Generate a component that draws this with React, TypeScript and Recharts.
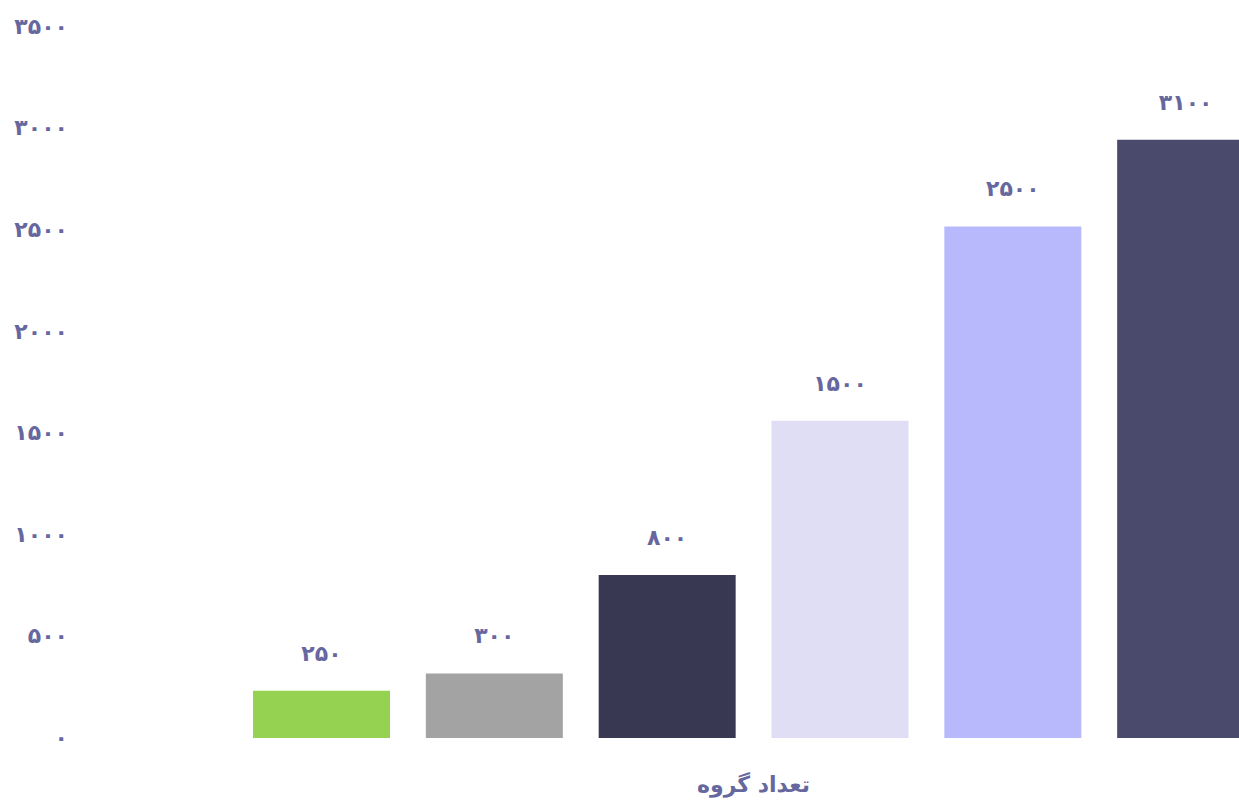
import { BarChart, Bar, XAxis, YAxis, Cell, LabelList } from "recharts";

const groups = ["g1", "g2", "g3", "g4", "g5", "g6"];
const barValues = [232, 318, 803, 1562, 2518, 2945];
const barLabels = [250, 300, 800, 1500, 2500, 3100];
const barColors = ["#95d251", "#a3a3a3", "#393853", "#e0def5", "#b8b9fd", "#4a4a6d"];
const yTicks = [0, 500, 1000, 1500, 2000, 2500, 3000, 3500];
const xTitle = "تعداد گروه";

const TEXT = "#6767a0";
const FONT = "'DejaVu Sans', sans-serif";
const FA = "۰۱۲۳۴۵۶۷۸۹";
const toFa = (v: number | string) => String(v).replace(/\d/g, (d) => FA[Number(d)]);

const data = groups.map((g, i) => ({ name: g, value: barValues[i], label: barLabels[i] }));

function YTick({ y, payload }: any) {
  return (
    <text x={68} y={y - 1} dy="0.36em" textAnchor="end" fill={TEXT} fontFamily={FONT} fontWeight="bold" fontSize={22}>
      {toFa(payload.value)}
    </text>
  );
}

export default function App() {
  return (
    <div style={{ width: 1239, height: 803, overflow: "hidden", background: "#fff" }}>
      <style>{`body{margin:0}`}</style>
      <BarChart width={1300} height={803} data={data} margin={{ top: 27, right: 28, left: 0, bottom: 0 }} barSize={137}>
        <XAxis dataKey="name" tick={false} axisLine={false} tickLine={false} height={65}
          label={{ value: xTitle, position: "insideTop", offset: 38, fill: TEXT, fontSize: 22, fontWeight: "bold", fontFamily: FONT }} />
        <YAxis domain={[0, 3500]} ticks={yTicks} width={235} axisLine={false} tickLine={false} tick={<YTick />} interval={0} />
        <Bar dataKey="value" isAnimationActive={false}>
          {data.map((d, i) => (
            <Cell key={d.name} fill={barColors[i]} />
          ))}
          <LabelList dataKey="label" position="top" offset={30} formatter={(v: any) => toFa(v)}
            fill={TEXT} fontSize={22} fontWeight="bold" fontFamily={FONT} />
        </Bar>
      </BarChart>
    </div>
  );
}
